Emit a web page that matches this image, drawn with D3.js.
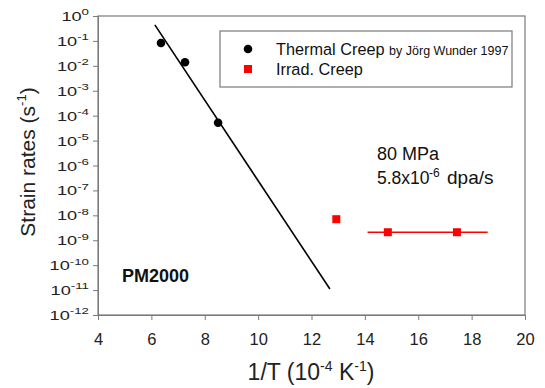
<!DOCTYPE html>
<html>
<head>
<meta charset="utf-8">
<script src="https://cdn.jsdelivr.net/npm/d3@7"></script>
<style>
  body { margin: 0; background: #fff; }
  text { font-family: Arial, "Liberation Sans", sans-serif; }
</style>
</head>
<body>
<svg id="chart" width="545" height="388"></svg>
<script>
// data
var thermalX = [6.36, 7.26, 8.5];
var thermalY = [0.083, 0.014, 5.2e-5];
var fitX = [6.13, 12.69];
var fitY = [0.44, 1.1e-11];
var irradX = [12.93, 14.86, 17.45];
var irradY = [7e-9, 2.1e-9, 2.1e-9];
var irradLineX = [14.1, 18.6];
var irradLineY = [2.1e-9, 2.1e-9];
var xTicks = [4, 6, 8, 10, 12, 14, 16, 18, 20];
var yExps = [0, -1, -2, -3, -4, -5, -6, -7, -8, -9, -10, -11, -12];

var svg = d3.select("#chart");
var plotL = 98, plotR = 525, plotT = 16, plotB = 315;
var axisColor = "#7a7a7a";

var x = d3.scaleLinear().domain([4, 20]).range([plotL, plotR]);
var y = d3.scaleLog().domain([1e-12, 1]).range([plotB, plotT]);

// frame
svg.append("rect")
  .attr("x", plotL).attr("y", plotT)
  .attr("width", plotR - plotL).attr("height", plotB - plotT)
  .attr("fill", "none").attr("stroke", axisColor).attr("stroke-width", 1.2);

// x axis
var gx = svg.append("g").attr("transform", "translate(0," + plotB + ")")
  .call(d3.axisBottom(x).tickValues(xTicks).tickSize(5).tickSizeOuter(0));
gx.select(".domain").attr("stroke", axisColor);
gx.selectAll("line").attr("stroke", axisColor);
gx.selectAll("text").attr("y", 18).attr("font-size", 16.5).attr("fill", "#222");

// y axis (labels are drawn a bit wide, like the original)
var sx = 1.4;
var gy = svg.append("g").attr("transform", "translate(" + plotL + ",0)")
  .call(d3.axisLeft(y).tickValues(yExps.map(e => Math.pow(10, e))).tickSize(5).tickSizeOuter(0).tickFormat(""));
gy.select(".domain").attr("stroke", axisColor);
gy.selectAll("line").attr("stroke", axisColor);
gy.selectAll(".tick").each(function(d) {
  var t = d3.select(this).append("text")
    .attr("transform", "scale(" + sx + ",1)")
    .attr("x", -9 / sx).attr("dy", "0.35em")
    .attr("text-anchor", "end").attr("fill", "#222").attr("font-size", 13);
  t.append("tspan").text("10");
  t.append("tspan").attr("font-size", 9.5).attr("dy", "-0.6em")
    .text(Math.round(Math.log10(d)));
});

// axis titles
var xt = svg.append("text").attr("x", 311).attr("y", 380)
  .attr("text-anchor", "middle").attr("font-size", 23).attr("fill", "#222");
xt.append("tspan").text("1/T (10");
xt.append("tspan").attr("font-size", 14).attr("dy", -9).text("-4");
xt.append("tspan").attr("dy", 9).text(" K");
xt.append("tspan").attr("font-size", 14).attr("dy", -9).text("-1");
xt.append("tspan").attr("dy", 9).text(")");

var yt = svg.append("text").attr("transform", "translate(35,162) rotate(-90)")
  .attr("text-anchor", "middle").attr("font-size", 21).attr("fill", "#222");
yt.append("tspan").text("Strain rates (s");
yt.append("tspan").attr("font-size", 13).attr("dy", -9).text("-1");
yt.append("tspan").attr("dy", 9).text(")");

// fit line
var line = d3.line().x(d => x(d[0])).y(d => y(d[1]));
svg.append("path").datum(d3.zip(fitX, fitY)).attr("d", line)
  .attr("fill", "none").attr("stroke", "#000").attr("stroke-width", 1.6);

svg.append("path").datum(d3.zip(irradLineX, irradLineY)).attr("d", line)
  .attr("fill", "none").attr("stroke", "#ff0000").attr("stroke-width", 1.6);

// thermal creep points
svg.selectAll(".th").data(d3.zip(thermalX, thermalY)).enter().append("circle")
  .attr("cx", d => x(d[0])).attr("cy", d => y(d[1])).attr("r", 4.3).attr("fill", "#000");

// irradiation creep points
svg.selectAll(".ir").data(d3.zip(irradX, irradY)).enter().append("rect")
  .attr("x", d => x(d[0]) - 4).attr("y", d => y(d[1]) - 4)
  .attr("width", 8).attr("height", 8).attr("fill", "#ff0000");

// legend
var lg = svg.append("g");
lg.append("rect").attr("x", 220).attr("y", 31).attr("width", 292).attr("height", 56)
  .attr("fill", "#fff").attr("stroke", axisColor).attr("stroke-width", 1.2);
lg.append("circle").attr("cx", 248).attr("cy", 49).attr("r", 4.3).attr("fill", "#000");
lg.append("rect").attr("x", 244).attr("y", 65).attr("width", 8).attr("height", 8).attr("fill", "#ff0000");
var l1 = lg.append("text").attr("x", 276).attr("y", 55).attr("font-size", 16.3).attr("fill", "#111");
l1.append("tspan").text("Thermal Creep ");
l1.append("tspan").attr("font-size", 12.5).text("by Jörg Wunder 1997");
lg.append("text").attr("x", 276).attr("y", 75).attr("font-size", 16.3).attr("fill", "#111").text("Irrad. Creep");

// annotations
svg.append("text").attr("x", 377).attr("y", 160).attr("font-size", 18).attr("fill", "#111").text("80 MPa");
var an = svg.append("text").attr("y", 184).attr("font-size", 17.5).attr("fill", "#111");
an.append("tspan").attr("x", 377).text("5.8x10");
an.append("tspan").attr("x", 429).attr("font-size", 12).attr("dy", -7).text("-6");
an.append("tspan").attr("x", 447).attr("dy", 7).attr("font-size", 19).text("dpa/s");

svg.append("text").attr("x", 122).attr("y", 282).attr("font-size", 18).attr("font-weight", "bold")
  .attr("fill", "#111").text("PM2000");
</script>
</body>
</html>
